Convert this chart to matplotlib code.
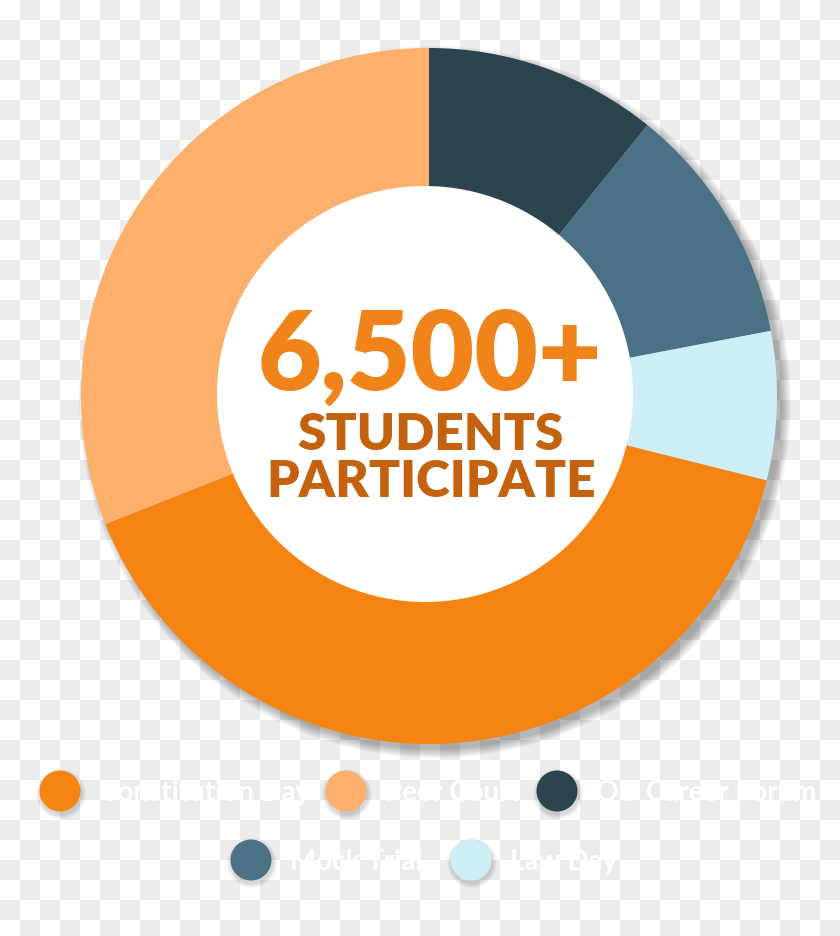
import numpy as np
import matplotlib
matplotlib.use("Agg")
import matplotlib.pyplot as plt
from matplotlib.patches import Circle

categories = ["Constitution Day", "Peer Court", "OU Career Forum", "Mock Trial", "Law Day"]
shares = [40.1, 31.0, 10.8, 11.2, 6.9]
colors = ["#F58412", "#FDB06C", "#2B4450", "#4A7185", "#CDEEF4"]
# order of the wedges clockwise from 12 o'clock
pie_order = [2, 3, 4, 0, 1]

headline = "6,500+"
sub_lines = ["STUDENTS", "PARTICIPATE"]

W, H = 840, 936
fig = plt.figure(figsize=(W / 100, H / 100), dpi=100)
ax = fig.add_axes([0, 0, 1, 1])

# checkerboard background (transparent look)
rows, cols = int(np.ceil(H / 20)), W // 20
yy, xx = np.indices((rows, cols))
board = np.where((xx + yy) % 2 == 0, 1.0, 0.922)
ax.imshow(board, cmap="gray", vmin=0, vmax=1, extent=(0, cols * 20, H - rows * 20, H),
          origin="upper", interpolation="nearest", zorder=0)

cx, cy, r = 429, H - 396, 348

# soft drop shadow, mostly right/below
for k in range(10):
    ax.add_patch(Circle((cx + 6, cy - 6), r + 8 - k, color="black", alpha=0.03,
                        lw=0, zorder=1))

ax.pie([shares[i] for i in pie_order], colors=[colors[i] for i in pie_order],
       startangle=90, counterclock=False, radius=r, center=(cx, cy),
       wedgeprops=dict(linewidth=0), frame=False)
for w in ax.patches[-5:]:
    w.set_zorder(2)

ax.add_patch(Circle((425, H - 394), 208, color="white", lw=0, zorder=3))

ax.text(430, H - 390, headline, ha="center", va="baseline", fontsize=79,
        fontfamily="Lato", fontweight="heavy", color="#F0841A", zorder=4)
for txt, base in zip(sub_lines, [450, 497]):
    ax.text(431, H - base, txt, ha="center", va="baseline", fontsize=37,
            fontfamily="Lato", fontweight="heavy", color="#C4620F", zorder=4)

# legend, two centred rows
dot_pos = [(60, 791), (346, 791), (557, 791), (251, 860), (471, 860)]
for (dx, dy), lab, c in zip(dot_pos, categories, colors):
    for k in range(5):
        ax.add_patch(Circle((dx + 1, H - dy - 3), 21 + 4 - k, color="black", alpha=0.03,
                            lw=0, zorder=4))
    ax.add_patch(Circle((dx, H - dy), 20.5, color=c, lw=0, zorder=5))
    ax.text(dx + 39, H - dy - 10, lab, ha="left", va="baseline", fontsize=20,
            fontfamily="Lato", fontweight="bold", color="white", zorder=5)

ax.set_xlim(0, W)
ax.set_ylim(0, H)
ax.set_aspect("equal")
ax.axis("off")
fig.savefig("out.png", dpi=100)
